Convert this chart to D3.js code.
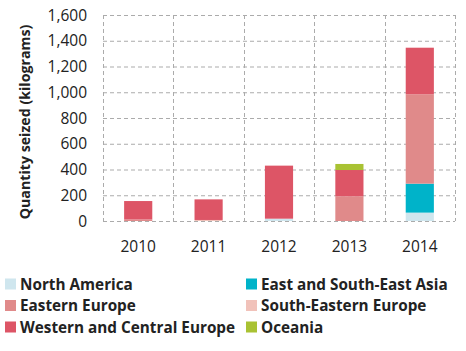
<!DOCTYPE html>
<html>
<head>
<meta charset="utf-8">
<script src="https://cdn.jsdelivr.net/npm/d3@7"></script>
<style>
  body { margin: 0; background: #fff; }
  text { font-family: "Open Sans", "Liberation Sans", sans-serif; }
</style>
</head>
<body>
<div id="chart"></div>
<script>
const years = ["2010", "2011", "2012", "2013", "2014"];
const regions = [
  "North America",
  "East and South-East Asia",
  "Eastern Europe",
  "South-Eastern Europe",
  "Western and Central Europe",
  "Oceania"
];
const northAmerica = [0, 0, 18, 0, 65];
const eastAsia = [0, 0, 0, 0, 225];
const easternEurope = [12, 0, 0, 192, 694];
const southEasternEurope = [0, 8, 0, 0, 0];
const westernCentralEurope = [143, 160, 412, 204, 362];
const oceania = [0, 0, 0, 47, 0];
const yTicks = [0, 200, 400, 600, 800, 1000, 1200, 1400, 1600];

const colors = ["#cfe6ee", "#00b3c9", "#e08a8a", "#f1c2ba", "#dd5566", "#a9c233"];

const seriesValues = [northAmerica, eastAsia, easternEurope, southEasternEurope, westernCentralEurope, oceania];
const table = years.map(function (y, i) {
  const row = { year: y };
  regions.forEach(function (r, j) { row[r] = seriesValues[j][i]; });
  return row;
});

var width = 466, height = 351;
var svg = d3.select("#chart").append("svg")
  .attr("width", width).attr("height", height);

var x = d3.scaleBand().domain(years).range([103, 455]).padding(0);
var y = d3.scaleLinear().domain([0, 1600]).range([221, 15]);

var gridColor = "#ababab";

// horizontal grid
svg.append("g").selectAll("line").data(yTicks).enter().append("line")
  .attr("x1", 103).attr("x2", 455)
  .attr("y1", function (d) { return y(d) + 0.5; })
  .attr("y2", function (d) { return y(d) + 0.5; })
  .attr("stroke", gridColor).attr("stroke-dasharray", "4,3");

// vertical grid
var vx = years.map(function (d) { return x(d); }).concat([x.range()[1]]);
svg.append("g").selectAll("line").data(vx).enter().append("line")
  .attr("x1", function (d) { return Math.round(d) + 0.5; })
  .attr("x2", function (d) { return Math.round(d) + 0.5; })
  .attr("y1", 15).attr("y2", 221)
  .attr("stroke", gridColor).attr("stroke-dasharray", "4,3");

var stack = d3.stack().keys(regions);
var series = stack(table);

var barW = x.bandwidth() * 0.4;
svg.append("g").selectAll("g").data(series).enter().append("g")
  .attr("fill", function (d, i) { return colors[i]; })
  .selectAll("rect").data(function (d) { return d; }).enter().append("rect")
  .attr("x", function (d) { return x(d.data.year) + (x.bandwidth() - barW) / 2; })
  .attr("width", barW)
  .attr("y", function (d) { return y(d[1]); })
  .attr("height", function (d) { return y(d[0]) - y(d[1]); });

// y axis labels
svg.append("g").selectAll("text").data(yTicks).enter().append("text")
  .attr("x", 87).attr("y", function (d) { return y(d); })
  .attr("dy", "0.36em").attr("text-anchor", "end")
  .style("font-size", "15.5px").style("fill", "#222")
  .text(d3.format(","));

// x axis labels
svg.append("g").selectAll("text").data(years).enter().append("text")
  .attr("x", function (d) { return x(d) + x.bandwidth() / 2; })
  .attr("y", 246).attr("dy", "0.36em").attr("text-anchor", "middle")
  .style("font-size", "15.5px").style("fill", "#222")
  .text(function (d) { return d; });

// y title
svg.append("text")
  .attr("transform", "translate(25,122) rotate(-90)")
  .attr("dy", "0.36em")
  .attr("text-anchor", "middle")
  .style("font-size", "14.2px").style("font-weight", "bold").style("fill", "#222")
  .text("Quantity seized (kilograms)");

// legend
var legend = svg.append("g").selectAll("g").data(regions).enter().append("g")
  .attr("transform", function (d, i) {
    var col = i % 2, row = Math.floor(i / 2);
    return "translate(" + (col === 0 ? 5 : 246) + "," + (284 + row * 21.5) + ")";
  });
legend.append("rect").attr("x", 0).attr("y", -5.5).attr("width", 11).attr("height", 11)
  .attr("fill", function (d, i) { return colors[i]; });
legend.append("text").attr("x", 15).attr("y", 0).attr("dy", "0.36em")
  .style("font-size", "15.3px").style("font-weight", "bold").style("fill", "#222")
  .text(function (d) { return d; });
</script>
</body>
</html>
